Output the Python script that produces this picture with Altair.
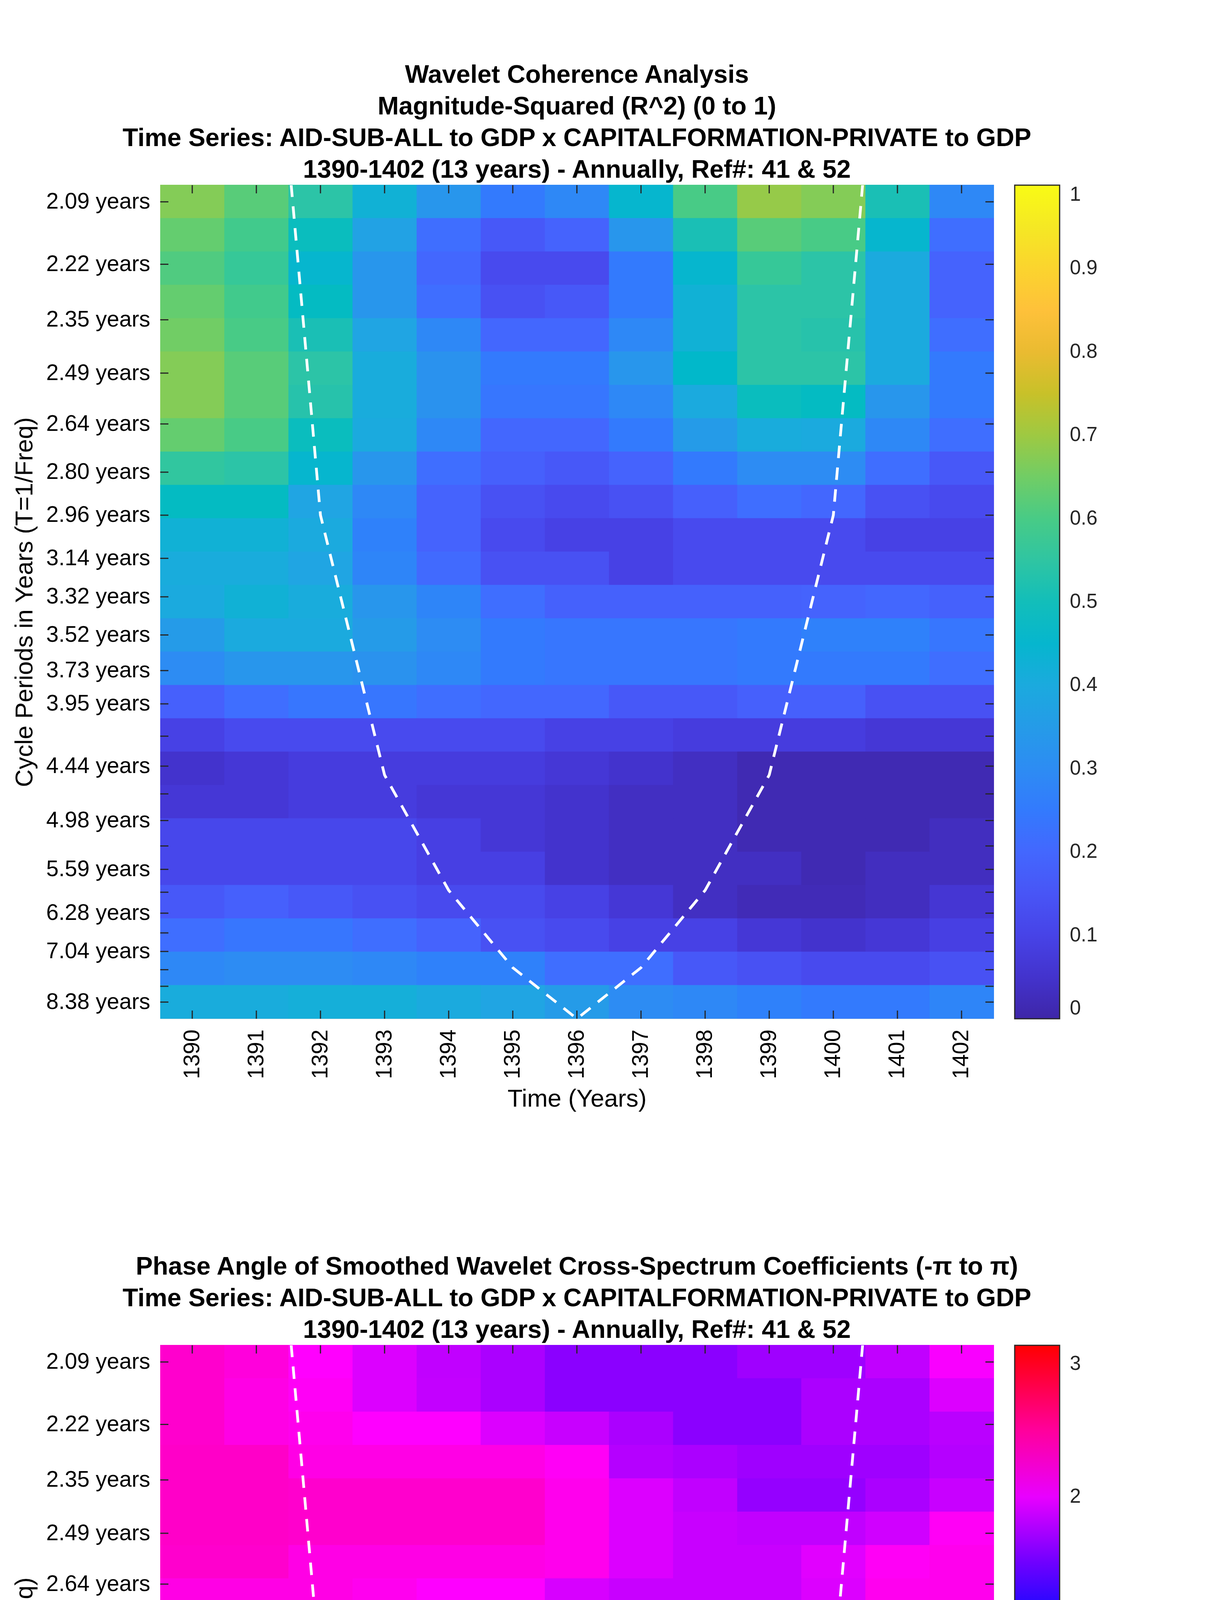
import altair as alt
import pandas as pd

# ---------------- data ----------------
years = list(range(1390, 1403))

tick_periods = [2.09, 2.22, 2.35, 2.49, 2.64, 2.80, 2.96, 3.14, 3.32, 3.52, 3.73, 3.95,
                4.19, 4.44, 4.70, 4.98, 5.28, 5.59, 5.93, 6.28, 6.65, 7.04, 7.47, 7.91, 8.38]
tick_labels = ["2.09 years", "2.22 years", "2.35 years", "2.49 years", "2.64 years",
               "2.80 years", "2.96 years", "3.14 years", "3.32 years", "3.52 years",
               "3.73 years", "3.95 years", "", "4.44 years", "", "4.98 years", "",
               "5.59 years", "", "6.28 years", "", "7.04 years", "", "", "8.38 years"]

# magnitude-squared coherence, rows from shortest period (top) to longest (bottom)
coherence = [
    [0.67, 0.62, 0.54, 0.43, 0.33, 0.25, 0.29, 0.45, 0.60, 0.69, 0.67, 0.51, 0.29],
    [0.635, 0.59, 0.49, 0.37, 0.22, 0.16, 0.19, 0.33, 0.51, 0.62, 0.60, 0.45, 0.22],
    [0.61, 0.57, 0.45, 0.33, 0.20, 0.12, 0.12, 0.25, 0.45, 0.57, 0.54, 0.40, 0.19],
    [0.635, 0.59, 0.48, 0.33, 0.22, 0.14, 0.16, 0.25, 0.43, 0.54, 0.54, 0.40, 0.19],
    [0.65, 0.60, 0.51, 0.38, 0.29, 0.20, 0.20, 0.29, 0.43, 0.54, 0.53, 0.40, 0.22],
    [0.67, 0.62, 0.54, 0.41, 0.32, 0.25, 0.25, 0.33, 0.46, 0.54, 0.54, 0.40, 0.25],
    [0.67, 0.62, 0.53, 0.41, 0.32, 0.24, 0.24, 0.29, 0.40, 0.49, 0.48, 0.33, 0.25],
    [0.635, 0.60, 0.49, 0.40, 0.29, 0.20, 0.20, 0.25, 0.35, 0.41, 0.40, 0.29, 0.22],
    [0.556, 0.54, 0.45, 0.33, 0.22, 0.18, 0.16, 0.19, 0.25, 0.30, 0.30, 0.22, 0.16],
    [0.48, 0.48, 0.38, 0.29, 0.19, 0.14, 0.12, 0.14, 0.18, 0.22, 0.20, 0.14, 0.12],
    [0.43, 0.43, 0.40, 0.27, 0.19, 0.12, 0.095, 0.095, 0.12, 0.12, 0.12, 0.095, 0.095],
    [0.41, 0.41, 0.38, 0.28, 0.21, 0.14, 0.14, 0.095, 0.12, 0.12, 0.12, 0.12, 0.12],
    [0.40, 0.43, 0.41, 0.33, 0.28, 0.22, 0.185, 0.185, 0.185, 0.185, 0.19, 0.20, 0.185],
    [0.35, 0.40, 0.40, 0.35, 0.30, 0.25, 0.24, 0.24, 0.24, 0.25, 0.27, 0.27, 0.24],
    [0.30, 0.33, 0.33, 0.32, 0.29, 0.25, 0.24, 0.24, 0.24, 0.25, 0.25, 0.25, 0.22],
    [0.18, 0.22, 0.24, 0.24, 0.22, 0.20, 0.20, 0.16, 0.16, 0.18, 0.18, 0.14, 0.14],
    [0.095, 0.12, 0.12, 0.12, 0.12, 0.12, 0.095, 0.095, 0.08, 0.08, 0.08, 0.065, 0.065],
    [0.05, 0.065, 0.08, 0.08, 0.08, 0.08, 0.065, 0.05, 0.035, 0.015, 0.015, 0.015, 0.015],
    [0.065, 0.065, 0.08, 0.08, 0.065, 0.065, 0.05, 0.035, 0.035, 0.015, 0.015, 0.015, 0.015],
    [0.11, 0.11, 0.11, 0.11, 0.09, 0.065, 0.05, 0.035, 0.035, 0.015, 0.015, 0.015, 0.03],
    [0.11, 0.11, 0.11, 0.11, 0.09, 0.09, 0.05, 0.035, 0.035, 0.035, 0.015, 0.03, 0.03],
    [0.16, 0.18, 0.16, 0.14, 0.12, 0.12, 0.095, 0.065, 0.035, 0.02, 0.02, 0.03, 0.06],
    [0.22, 0.24, 0.24, 0.22, 0.19, 0.14, 0.12, 0.095, 0.095, 0.065, 0.05, 0.065, 0.09],
    [0.29, 0.30, 0.30, 0.29, 0.27, 0.27, 0.22, 0.22, 0.16, 0.14, 0.12, 0.12, 0.14],
    [0.41, 0.41, 0.42, 0.42, 0.40, 0.38, 0.35, 0.30, 0.29, 0.27, 0.25, 0.25, 0.28],
]

# phase angle (radians), same layout
phase = [
    [2.30, 2.24, 2.10, 1.95, 1.84, 1.75, 1.62, 1.62, 1.62, 1.70, 1.70, 1.84, 2.07],
    [2.30, 2.20, 2.13, 1.95, 1.85, 1.75, 1.62, 1.62, 1.62, 1.62, 1.75, 1.75, 1.95],
    [2.30, 2.20, 2.17, 2.09, 2.09, 1.95, 1.87, 1.75, 1.62, 1.62, 1.75, 1.75, 1.81],
    [2.32, 2.32, 2.20, 2.20, 2.20, 2.20, 2.13, 1.79, 1.75, 1.70, 1.70, 1.70, 1.79],
    [2.32, 2.32, 2.30, 2.30, 2.30, 2.30, 2.17, 1.95, 1.84, 1.66, 1.66, 1.75, 1.87],
    [2.32, 2.32, 2.30, 2.30, 2.30, 2.30, 2.17, 1.95, 1.87, 1.84, 1.84, 1.90, 2.13],
    [2.30, 2.30, 2.20, 2.20, 2.20, 2.20, 2.17, 1.95, 1.87, 1.87, 1.97, 2.13, 2.17],
    [2.20, 2.20, 2.20, 2.16, 2.09, 2.09, 1.93, 1.87, 1.87, 1.87, 1.95, 2.16, 2.17],
    [2.20, 2.20, 2.20, 2.16, 2.09, 2.09, 1.93, 1.87, 1.87, 1.87, 1.95, 2.16, 2.30],
    [2.30, 2.20, 2.20, 2.20, 2.20, 2.20, 2.13, 1.95, 1.95, 1.95, 2.13, 2.20, 2.30],
    [2.37, 2.37, 2.37, 2.37, 2.37, 2.37, 2.37, 2.17, 2.17, 2.37, 2.37, 2.44, 2.51],
    [2.44, 2.44, 2.44, 2.51, 2.51, 2.51, 2.51, 2.51, 2.51, 2.51, 2.58, 2.58, 2.58],
    [2.51, 2.44, 2.51, 2.51, 2.51, 2.51, 2.51, 2.51, 2.58, 2.58, 2.62, 2.72, 2.72],
    [2.44, 2.44, 2.44, 2.44, 2.44, 2.44, 2.44, 2.51, 2.51, 2.62, 2.58, 2.72, 2.72],
    [2.30, 2.17, 2.17, 2.17, 2.17, 2.17, 2.24, 2.24, 2.37, 2.51, 2.58, 2.58, 2.58],
    [2.06, 1.90, 1.90, 1.84, 1.84, 1.95, 1.95, 2.13, 2.17, 2.24, 2.44, 2.51, 2.37],
    [1.36, 1.36, 1.36, 1.30, 1.31, 1.36, 1.36, 1.70, 1.84, 2.13, 2.17, 2.17, 2.13],
    [0.97, 0.97, 0.97, 0.97, 0.97, 0.97, 1.05, 1.05, 1.26, 1.30, 1.57, 1.57, 1.33],
    [0.35, 0.39, 0.39, 0.39, 0.39, 0.39, 0.39, 0.39, 0.39, 0.40, 0.42, 0.35, 0.35],
    [0.24, 0.24, 0.24, 0.31, 0.31, 0.31, 0.31, 0.31, 0.31, 0.31, 0.31, 0.24, 0.24],
    [0.10, 0.21, 0.21, 0.21, 0.21, 0.31, 0.31, 0.31, 0.31, 0.31, 0.31, 0.24, 0.10],
    [0.10, 0.21, 0.21, 0.21, 0.31, 0.31, 0.31, 0.39, 0.39, 0.39, 0.31, 0.22, 0.22],
    [0.10, 0.21, 0.21, 0.21, 0.31, 0.31, 0.31, 0.39, 0.39, 0.39, 0.31, 0.31, 0.22],
    [0.10, 0.10, 0.21, 0.21, 0.21, 0.31, 0.31, 0.31, 0.31, 0.31, 0.24, 0.24, 0.10],
    [0.10, 0.10, 0.10, 0.10, 0.10, 0.10, 0.21, 0.21, 0.21, 0.10, 0.10, 0.10, 0.10],
]

# cone of influence (period in years at each year)
coi_years = [1391, 1392, 1393, 1394, 1395, 1396, 1397, 1398, 1399, 1400, 1401]
coi_periods = [1.51, 2.96, 4.52, 5.90, 7.42, 8.94, 7.42, 5.90, 4.52, 2.96, 1.51]

top_title = ["Wavelet Coherence Analysis",
             "Magnitude-Squared (R^2) (0 to 1)",
             "Time Series: AID-SUB-ALL to GDP x CAPITALFORMATION-PRIVATE to GDP",
             "1390-1402 (13 years) - Annually, Ref#: 41 & 52"]
bottom_title = ["Phase Angle of Smoothed Wavelet Cross-Spectrum Coefficients (-π to π)",
                "Time Series: AID-SUB-ALL to GDP x CAPITALFORMATION-PRIVATE to GDP",
                "1390-1402 (13 years) - Annually, Ref#: 41 & 52"]

coh_ticks = [0, 0.1, 0.2, 0.3, 0.4, 0.5, 0.6, 0.7, 0.8, 0.9, 1]
phase_ticks = [-3, -2, -1, 0, 1, 2, 3]

# ---------------- styles ----------------
PARULA = [
    (0.2422, 0.1504, 0.6603), (0.2504, 0.1650, 0.7076), (0.2578, 0.1818, 0.7511), (0.2647, 0.1978, 0.7952),
    (0.2706, 0.2147, 0.8364), (0.2751, 0.2342, 0.8710), (0.2783, 0.2559, 0.8991), (0.2803, 0.2782, 0.9221),
    (0.2813, 0.3006, 0.9414), (0.2810, 0.3228, 0.9579), (0.2795, 0.3447, 0.9717), (0.2760, 0.3667, 0.9829),
    (0.2699, 0.3892, 0.9906), (0.2602, 0.4123, 0.9952), (0.2440, 0.4358, 0.9988), (0.2206, 0.4603, 0.9973),
    (0.1963, 0.4847, 0.9892), (0.1834, 0.5074, 0.9798), (0.1786, 0.5289, 0.9682), (0.1764, 0.5499, 0.9520),
    (0.1687, 0.5703, 0.9359), (0.1540, 0.5902, 0.9218), (0.1460, 0.6091, 0.9079), (0.1380, 0.6276, 0.8973),
    (0.1248, 0.6459, 0.8883), (0.1113, 0.6635, 0.8763), (0.0952, 0.6798, 0.8598), (0.0689, 0.6948, 0.8394),
    (0.0297, 0.7082, 0.8163), (0.0036, 0.7203, 0.7917), (0.0067, 0.7312, 0.7660), (0.0433, 0.7411, 0.7394),
    (0.0964, 0.7500, 0.7120), (0.1408, 0.7584, 0.6842), (0.1717, 0.7670, 0.6554), (0.1938, 0.7758, 0.6251),
    (0.2161, 0.7843, 0.5923), (0.2470, 0.7918, 0.5567), (0.2906, 0.7973, 0.5188), (0.3406, 0.8008, 0.4789),
    (0.3909, 0.8029, 0.4354), (0.4456, 0.8024, 0.3909), (0.5044, 0.7993, 0.3480), (0.5616, 0.7942, 0.3045),
    (0.6174, 0.7876, 0.2612), (0.6720, 0.7793, 0.2227), (0.7242, 0.7698, 0.1910), (0.7738, 0.7598, 0.1646),
    (0.8203, 0.7498, 0.1535), (0.8634, 0.7406, 0.1596), (0.9035, 0.7330, 0.1774), (0.9393, 0.7288, 0.2100),
    (0.9728, 0.7298, 0.2394), (0.9956, 0.7434, 0.2371), (0.9970, 0.7659, 0.2199), (0.9952, 0.7893, 0.2028),
    (0.9892, 0.8136, 0.1885), (0.9786, 0.8386, 0.1766), (0.9676, 0.8639, 0.1643), (0.9610, 0.8890, 0.1537),
    (0.9597, 0.9135, 0.1423), (0.9628, 0.9373, 0.1265), (0.9691, 0.9606, 0.1064), (0.9769, 0.9839, 0.0805),
]
parula_hex = ["#%02x%02x%02x" % tuple(int(round(c * 255)) for c in rgb) for rgb in PARULA]
parula_dom = [i / (len(parula_hex) - 1) for i in range(len(parula_hex))]
PI = 3.141592653589793
hsv_dom = [-PI, -2 * PI / 3, -PI / 3, 0, PI / 3, 2 * PI / 3, PI]
hsv_rng = ["#ff0000", "#ffff00", "#00ff00", "#00ffff", "#0000ff", "#ff00ff", "#ff0000"]

W = 2133
H = 2134
FONT = "Liberation Sans"
TXT = "#262626"
TICK = 21

# ---------------- tables ----------------
f_first = 1.0 / tick_periods[0]
f_last = 1.0 / tick_periods[-1]
n_rows = len(coherence)
step = (f_first - f_last) / (n_rows - 1)


def cell_table(grid):
    rows = []
    for i, row in enumerate(grid):
        fc = f_first - i * step
        for j, v in enumerate(row):
            rows.append({"x0": years[j] - 0.5, "x1": years[j] + 0.5,
                         "y0": fc - step / 2, "y1": fc + step / 2, "v": v})
    return pd.DataFrame(rows)


tick_vals = [round(1.0 / p, 9) for p in tick_periods]
ytick_df = pd.DataFrame({"f": tick_vals})
xtick_df = pd.DataFrame({"year": years})
coi_df = pd.DataFrame({"year": coi_years, "f": [1.0 / p for p in coi_periods]})

label_expr = ("[" + ",".join("'%s'" % s for s in tick_labels) + "][indexof(["
              + ",".join(repr(v) for v in tick_vals) + "], datum.value)]")

xscale = alt.Scale(domain=[1389.5, 1402.5], nice=False, zero=False)
yscale = alt.Scale(domain=[f_last - step / 2, f_first + step / 2], nice=False, zero=False)

xaxis = alt.Axis(values=years, format="d", labelAngle=-90, ticks=False, domain=False, grid=False,
                 labelPadding=27, labelFontSize=57, labelLimit=600, title="Time (Years)",
                 titleFontSize=63, titleFontWeight="normal", titlePadding=21,
                 minExtent=0, maxExtent=600)
yaxis = alt.Axis(values=tick_vals, labelExpr=label_expr, ticks=False, domain=False, grid=False,
                 labelPadding=26, labelFontSize=57, labelLimit=600,
                 title="Cycle Periods in Years (T=1/Freq)",
                 titleFontSize=63, titleFontWeight="normal", titlePadding=22,
                 minExtent=0, maxExtent=600)


def panel(grid, cdom, crng, legend_vals, legend_fmt, title_lines):
    cscale = alt.Scale(domain=cdom, range=crng, interpolate="rgb")
    df = cell_table(grid)
    heat = alt.Chart(df).mark_rect(x2Offset=1, y2Offset=-1).encode(
        x=alt.X("x0:Q", scale=xscale, axis=xaxis), x2="x1:Q",
        y=alt.Y("y0:Q", scale=yscale, axis=yaxis), y2="y1:Q",
        color=alt.Color("v:Q", scale=cscale, legend=alt.Legend(
            type="gradient", title=None, direction="vertical", orient="right", offset=54,
            padding=0, gradientLength=H, gradientThickness=115, values=legend_vals,
            format=legend_fmt, labelFontSize=51, labelOffset=26, labelColor=TXT,
            labelFont=FONT, labelLimit=300, labelBaseline="middle",
            gradientStrokeColor=TXT, gradientStrokeWidth=3)),
    )
    left = alt.Chart(ytick_df).mark_rule(color=TXT, strokeWidth=3).encode(
        y=alt.Y("f:Q", scale=yscale, axis=yaxis), x=alt.value(0), x2=alt.value(TICK))
    right = alt.Chart(ytick_df).mark_rule(color=TXT, strokeWidth=3).encode(
        y=alt.Y("f:Q", scale=yscale, axis=yaxis), x=alt.value(W - TICK), x2=alt.value(W))
    bottom = alt.Chart(xtick_df).mark_rule(color=TXT, strokeWidth=3).encode(
        x=alt.X("year:Q", scale=xscale, axis=xaxis), y=alt.value(H - TICK), y2=alt.value(H))
    top = alt.Chart(xtick_df).mark_rule(color=TXT, strokeWidth=3).encode(
        x=alt.X("year:Q", scale=xscale, axis=xaxis), y=alt.value(0), y2=alt.value(TICK))
    coi = alt.Chart(coi_df).mark_line(color="white", strokeWidth=7, strokeDash=[32, 24],
                                      clip=True).encode(
        x=alt.X("year:Q", scale=xscale, axis=xaxis),
        y=alt.Y("f:Q", scale=yscale, axis=yaxis))
    return alt.layer(heat, left, right, bottom, top, coi).properties(
        width=W, height=H,
        title=alt.TitleParams(text=title_lines, fontSize=65, fontWeight="bold", font=FONT,
                              color="black", lineHeight=81, anchor="middle", offset=4))


top_chart = panel(coherence, parula_dom, parula_hex, coh_ticks, ".1~f", top_title)
bottom_chart = panel(phase, hsv_dom, hsv_rng, phase_ticks, "d", bottom_title)

chart = alt.vconcat(top_chart, bottom_chart, spacing=363).resolve_scale(
    color="independent"
).properties(
    padding={"left": 24, "top": 151, "right": 10, "bottom": 10}
).configure_view(
    stroke=TXT, strokeWidth=3
).configure_axis(
    labelFont=FONT, titleFont=FONT, labelColor=TXT, titleColor=TXT
).configure_legend(
    gradientVerticalMaxLength=4000, gradientVerticalMinLength=10
).configure(background="white")

chart.save("out.html", embed_options={"renderer": "svg", "actions": False})
